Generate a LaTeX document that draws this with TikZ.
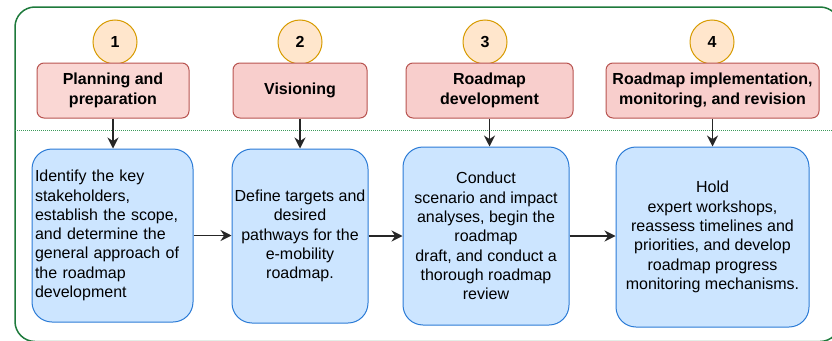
\documentclass[tikz,border=0pt]{standalone}
\usepackage{fontspec}
\setmainfont{Liberation Sans}
\usetikzlibrary{arrows.meta}

\definecolor{frameGreen}{HTML}{1E7A3C}
\definecolor{sepGreen}{HTML}{3C9A5A}
\definecolor{numFill}{HTML}{FFE6CC}
\definecolor{numLine}{HTML}{D79B00}
\definecolor{phaseFill}{HTML}{F8CECC}
\definecolor{phaseFillLight}{HTML}{FAD7D4}
\definecolor{phaseLine}{HTML}{B85450}
\definecolor{taskFill}{HTML}{CCE5FF}
\definecolor{taskLine}{HTML}{2B7BD6}

\begin{document}
\begin{tikzpicture}[x=1pt,y=-1pt,
  numcircle/.style={circle, draw=numLine, fill=numFill, line width=1pt,
    minimum size=44pt, inner sep=0pt, font=\fontsize{16}{19}\selectfont\bfseries},
  phasebox/.style={draw=phaseLine, fill=phaseFill, line width=1pt,
    rounded corners=7pt, minimum height=55pt, align=center, inner sep=0pt,
    font=\fontsize{16}{19.3}\selectfont\bfseries},
  taskbox/.style={draw=taskLine, fill=taskFill, line width=1pt,
    rounded corners=20pt, align=center, inner sep=0pt,
    font=\fontsize{16}{19.3}\selectfont},
  flow/.style={-{Stealth[length=11pt,width=11pt]}, line width=1.2pt, draw=black!85}
]
\useasboundingbox (0,0) rectangle (832,340);

% outer frame and separator between phases and tasks
\draw[frameGreen, line width=1.5pt, rounded corners=20pt] (15,7) rectangle (840,341.5);
\draw[sepGreen, line width=0.7pt, dash pattern=on 0.8pt off 1.2pt] (15,130) -- (840,130);

% step numbers
\node[numcircle] (n1) at (115,42) {1};
\node[numcircle] (n2) at (300,42) {2};
\node[numcircle] (n3) at (485,42) {3};
\node[numcircle] (n4) at (712,42) {4};

% phase titles
\node[phasebox, fill=phaseFillLight, minimum width=152pt] (p1) at (113,90.5) {Planning and\\preparation};
\node[phasebox, minimum width=134pt] (p2) at (300,90.5) {Visioning};
\node[phasebox, minimum width=167pt] (p3) at (489.5,90.5) {Roadmap\\development};
\node[phasebox, minimum width=213pt] (p4) at (712.5,90.5) {Roadmap implementation,\\monitoring, and revision};

% task descriptions
\node[taskbox, align=left, text width=155pt, inner xsep=3pt, minimum width=161pt, minimum height=173pt] (t1) at (112.5,235.5)
  {Identify the key\\stakeholders,\\establish the scope,\\and determine the\\general approach of\\the roadmap\\development};
\node[taskbox, minimum width=136pt, minimum height=174pt] (t2) at (300,236)
  {Define targets and\\desired\\pathways for the\\e-mobility\\roadmap.};
\node[taskbox, minimum width=166pt, minimum height=178pt] (t3) at (486,236)
  {Conduct\\scenario and impact\\analyses, begin the\\roadmap\\draft, and conduct a\\thorough roadmap\\review};
\node[taskbox, minimum width=193pt, minimum height=180pt] (t4) at (712.5,237)
  {Hold\\expert workshops,\\reassess timelines and\\priorities, and develop\\roadmap progress\\monitoring mechanisms.};

% connectors
\draw[flow] (p1.south) -- (p1.south |- t1.north);
\draw[flow] (p2.south) -- (p2.south |- t2.north);
\draw[flow] (p3.south) -- (p3.south |- t3.north);
\draw[flow] (p4.south) -- (p4.south |- t4.north);
\draw[flow] (t1.east) -- (t1.east -| t2.west);
\draw[flow] (t2.east) -- (t2.east -| t3.west);
\draw[flow] (t3.east) -- (t3.east -| t4.west);
\end{tikzpicture}
\end{document}
